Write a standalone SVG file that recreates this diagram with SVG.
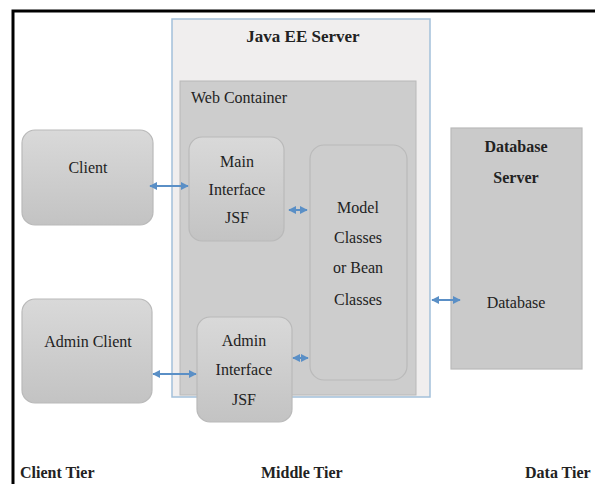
<svg xmlns="http://www.w3.org/2000/svg" width="595" height="484" viewBox="0 0 595 484">
<defs>
<linearGradient id="g" x1="0" y1="0" x2="0" y2="1">
<stop offset="0" stop-color="#d9d9d9"/>
<stop offset="1" stop-color="#c3c3c3"/>
</linearGradient>
<marker id="ah" viewBox="0 0 10 10" refX="9" refY="5" markerWidth="4" markerHeight="4" orient="auto-start-reverse">
<path d="M0,0 L10,5 L0,10 z" fill="#5a8fc6"/>
</marker>
<style>
text{font-family:'Liberation Serif','DejaVu Serif',serif;fill:#222;font-size:16px}
.b{font-weight:bold}
.c{text-anchor:middle}
.node{fill:url(#g);stroke:#b9b9b9;stroke-width:1.2}
.conn line{stroke:#5a8fc6;stroke-width:2;marker-start:url(#ah);marker-end:url(#ah)}
</style>
</defs>
<rect width="595" height="484" fill="#fff"/>
<path d="M13,484 V11 H595" fill="none" stroke="#000" stroke-width="3"/>

<g id="java-ee-server">
<rect x="172" y="19" width="258" height="378" fill="#f0eeee" stroke="#a3c0da" stroke-width="1.5"/>
<text x="303" y="42" class="b c" font-family="Liberation Serif" style="font-size:17px">Java EE Server</text>
</g>
<g id="web-container">
<rect x="180" y="81" width="236" height="314" fill="#cdcdcd" stroke="#b8b8b8" stroke-width="1"/>
<text x="191" y="103">Web Container</text>
</g>
<g id="client">
<rect x="22" y="130" width="131" height="95" rx="13" class="node"/>
<text x="88" y="173" class="c">Client</text>
</g>
<g id="main-interface">
<rect x="189" y="137" width="95" height="104" rx="13" class="node"/>
<text x="237" y="167" class="c">Main</text>
<text x="237" y="195" class="c">Interface</text>
<text x="237" y="223" class="c">JSF</text>
</g>
<g id="model-classes">
<rect x="310" y="145" width="97" height="235" rx="14" fill="#cdcdcd" stroke="#bababa" stroke-width="1.2"/>
<text x="358" y="213" class="c">Model</text>
<text x="358" y="243" class="c">Classes</text>
<text x="358" y="273" class="c">or Bean</text>
<text x="358" y="305" class="c">Classes</text>
</g>
<g id="database-server">
<rect x="451" y="128" width="131" height="241" fill="#cacaca" stroke="#b9b9b9" stroke-width="1.2"/>
<text x="516" y="152" class="b c">Database</text>
<text x="516" y="183" class="b c">Server</text>
<text x="516" y="308" class="c">Database</text>
</g>
<g id="admin-client">
<rect x="22" y="299" width="130" height="104" rx="13" class="node"/>
<text x="88" y="347" class="c">Admin Client</text>
</g>
<g id="admin-interface">
<rect x="197" y="317" width="95" height="105" rx="13" class="node"/>
<text x="244" y="346" class="c">Admin</text>
<text x="244" y="375" class="c">Interface</text>
<text x="244" y="405" class="c">JSF</text>
</g>
<g id="tiers">
<text x="20" y="478" class="b">Client Tier</text>
<text x="261" y="478" class="b">Middle Tier</text>
<text x="525" y="478" class="b">Data Tier</text>
</g>
<g id="connectors" class="conn">
<line x1="150" y1="186" x2="188" y2="186"/>
<line x1="289" y1="210" x2="307" y2="210"/>
<line x1="153" y1="374" x2="196" y2="374"/>
<line x1="293" y1="358" x2="308" y2="358"/>
<line x1="432" y1="300" x2="460" y2="300"/>
</g>
</svg>
